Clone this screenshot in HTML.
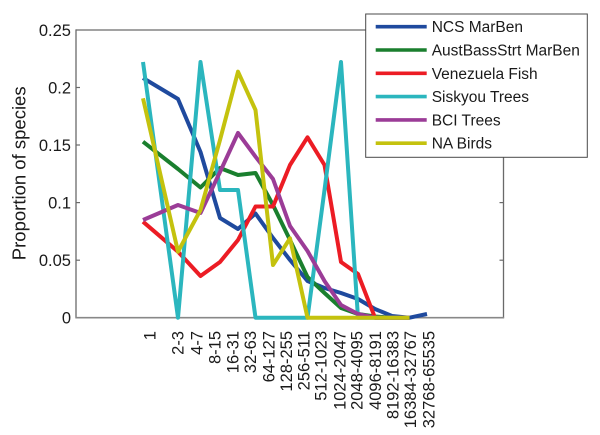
<!DOCTYPE html>
<html>
<head>
<meta charset="utf-8">
<style>
  html, body { margin: 0; padding: 0; background: #ffffff; }
  svg { display: block; }
  text { font-family: "Liberation Sans", Arial, sans-serif; fill: #1a1a1a; }
</style>
</head>
<body>
<svg width="600" height="435" viewBox="0 0 600 435" xmlns="http://www.w3.org/2000/svg">
  <rect x="0" y="0" width="600" height="435" fill="#ffffff"/>

  <!-- axes box -->
  <line x1="76" y1="30" x2="503.5" y2="30" stroke="#6a6a6a" stroke-width="1.3"/>
  <line x1="76" y1="29.4" x2="76" y2="318.3" stroke="#6a6a6a" stroke-width="1.3"/>
  <line x1="503.5" y1="29.4" x2="503.5" y2="318.3" stroke="#6a6a6a" stroke-width="1.3"/>
  <line x1="75.4" y1="317.7" x2="504.1" y2="317.7" stroke="#888888" stroke-width="1.6"/>

  <!-- y ticks left -->
  <g stroke="#6a6a6a" stroke-width="1.2">
    <line x1="76" y1="87.5" x2="80" y2="87.5"/>
    <line x1="76" y1="145" x2="80" y2="145"/>
    <line x1="76" y1="202.6" x2="80" y2="202.6"/>
    <line x1="76" y1="260.2" x2="80" y2="260.2"/>
    <line x1="503.5" y1="87.5" x2="499.5" y2="87.5"/>
    <line x1="503.5" y1="145" x2="499.5" y2="145"/>
    <line x1="503.5" y1="202.6" x2="499.5" y2="202.6"/>
    <line x1="503.5" y1="260.2" x2="499.5" y2="260.2"/>
  </g>

  <!-- y tick labels -->
  <g font-size="16.5" text-anchor="end">
    <text x="71" y="36">0.25</text>
    <text x="71" y="93.5">0.2</text>
    <text x="71" y="151">0.15</text>
    <text x="71" y="208.6">0.1</text>
    <text x="71" y="266.2">0.05</text>
    <text x="71" y="323.7">0</text>
  </g>

  <!-- y axis label -->
  <text transform="translate(25.5,173.3) rotate(-90)" text-anchor="middle" font-size="18.5">Proportion of species</text>

  <!-- x tick labels -->
  <g font-size="16.5" text-anchor="end">
    <text transform="translate(155.3,331) rotate(-90)">1</text>
    <text transform="translate(183.7,331) rotate(-90)">2-3</text>
    <text transform="translate(202.7,331) rotate(-90)">4-7</text>
    <text transform="translate(220.3,331) rotate(-90)">8-15</text>
    <text transform="translate(238.7,331) rotate(-90)">16-31</text>
    <text transform="translate(256,331) rotate(-90)">32-63</text>
    <text transform="translate(274.3,331) rotate(-90)">64-127</text>
    <text transform="translate(292,331) rotate(-90)">128-255</text>
    <text transform="translate(309.3,331) rotate(-90)">256-511</text>
    <text transform="translate(326.7,331) rotate(-90)">512-1023</text>
    <text transform="translate(345.3,331) rotate(-90)">1024-2047</text>
    <text transform="translate(362.7,331) rotate(-90)">2048-4095</text>
    <text transform="translate(381,331) rotate(-90)">4096-8191</text>
    <text transform="translate(398.7,331) rotate(-90)">8192-16383</text>
    <text transform="translate(416,331) rotate(-90)">16384-32767</text>
    <text transform="translate(434.3,331) rotate(-90)">32768-65535</text>
  </g>

  <!-- data series -->
  <g fill="none" stroke-width="4" stroke-linejoin="round" stroke-linecap="butt">
    <!-- NCS MarBen (blue) -->
    <polyline stroke="#1f4a9e" points="143,78 178,99 200.5,152 220,218 238,229 255.5,213.5 273,238 290,260 307.5,281 324.5,288 341,293 358,299 375,309 392,316 409.5,317.7 427,314"/>
    <!-- AustBassStrt MarBen (green) -->
    <polyline stroke="#1a7f2e" points="143,141.7 178,169 200.5,187.5 220,168 238,175 255.5,173 273,205 290,240 307.5,277 324.5,293 341,308 358,314 375,316.5 392,317.7 409.5,317.7"/>
    <!-- Venezuela Fish (red) -->
    <polyline stroke="#ec1c24" points="143,221.7 178,251.7 200.5,276 220,262 238,240 255.5,206.5 273,206.5 290,165 307.5,137.3 324.5,165 341,262 358,274 375,317.7 392,317.7 409.5,317.7"/>
    <!-- Siskyou Trees (cyan) -->
    <polyline stroke="#2bb6be" points="143,62 178,317.7 200.5,62 220,190 238,190 255.5,317.7 273,317.7 290,317.7 307.5,317.7 324.5,190 341,62 358,317.7 375,317.7 392,317.7 409.5,317.7"/>
    <!-- BCI Trees (purple) -->
    <polyline stroke="#9b3c97" points="143,220 178,205 200.5,213 220,172 238,133 255.5,156.7 273,179 290,226 307.5,251 324.5,281 341,305 358,314 375,317.7 392,317.7 409.5,317.7"/>
    <!-- NA Birds (yellow) -->
    <polyline stroke="#c4c20e" points="143,98.3 178,251.7 200.5,210 220,140 238,71.7 255.5,110 273,265 290,238.3 307.5,317.7 324.5,317.7 341,317.7 358,317.7 375,317.7 392,317.7 409.5,317.7"/>
  </g>

  <!-- legend -->
  <rect x="365.7" y="14" width="221.6" height="143.3" fill="#ffffff" stroke="#4a4a4a" stroke-width="1"/>
  <g stroke-width="3.6" fill="none">
    <line x1="375.7" y1="26.7" x2="426.7" y2="26.7" stroke="#1f4a9e"/>
    <line x1="375.7" y1="50" x2="426.7" y2="50" stroke="#1a7f2e"/>
    <line x1="375.7" y1="73.3" x2="426.7" y2="73.3" stroke="#ec1c24"/>
    <line x1="375.7" y1="96.6" x2="426.7" y2="96.6" stroke="#2bb6be"/>
    <line x1="375.7" y1="119.9" x2="426.7" y2="119.9" stroke="#9b3c97"/>
    <line x1="375.7" y1="143.2" x2="426.7" y2="143.2" stroke="#c4c20e"/>
  </g>
  <g font-size="15.5">
    <text x="431.7" y="32.2">NCS MarBen</text>
    <text x="431.7" y="55.5">AustBassStrt MarBen</text>
    <text x="431.7" y="78.8">Venezuela Fish</text>
    <text x="431.7" y="102.1">Siskyou Trees</text>
    <text x="431.7" y="125.4">BCI Trees</text>
    <text x="431.7" y="148.7">NA Birds</text>
  </g>
</svg>
</body>
</html>
